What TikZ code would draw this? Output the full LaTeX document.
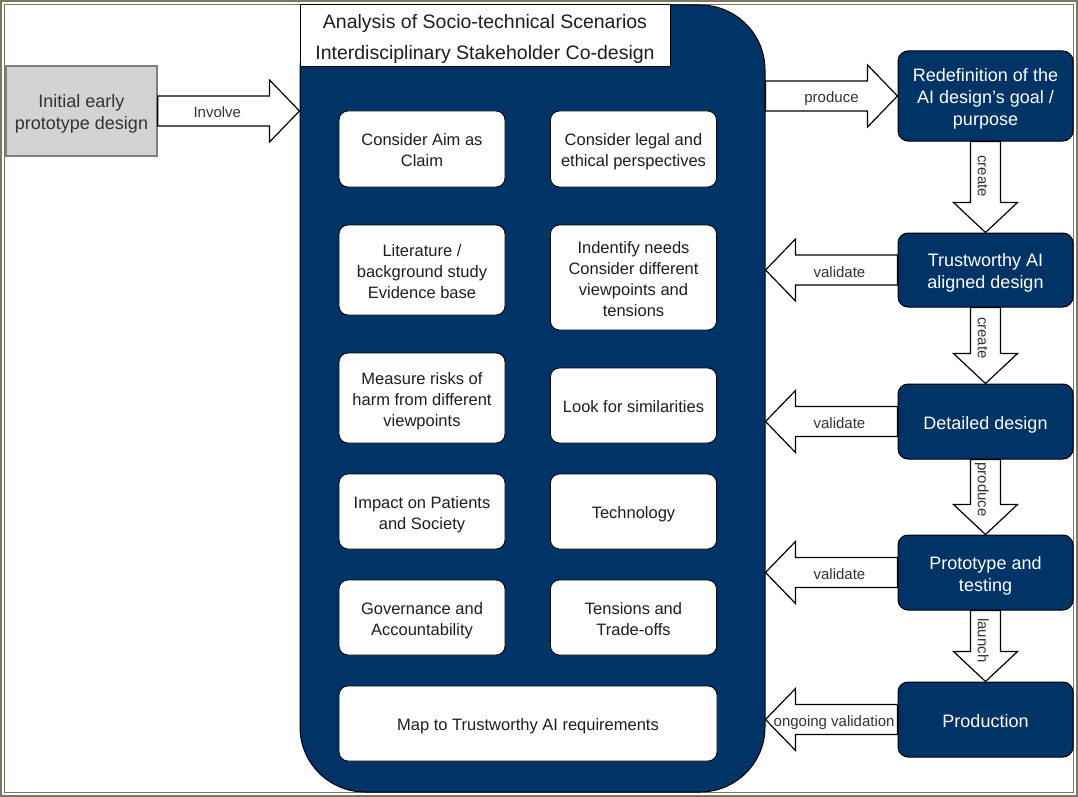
\documentclass[tikz,border=0pt]{standalone}
\usepackage{fontspec}
\setmainfont{Liberation Sans}
\usetikzlibrary{calc}
\definecolor{navy}{HTML}{003366}
\definecolor{framec}{RGB}{122,122,100}
\definecolor{txtc}{HTML}{1E1E1E}
\definecolor{lblc}{HTML}{333333}
\definecolor{initfill}{HTML}{D3D3D3}
\definecolor{initline}{HTML}{808080}
\newcommand{\tdrop}{0}
\newcommand{\ml}[1]{\raisebox{-\tdrop pt}[\height][\depth]{\begin{tabular}{@{}c@{}}#1\end{tabular}}}
\newcommand{\rightfat}[2]{\draw[fat] ($(#1)+(0,15)$) -- ($(#2)+(-30,15)$) -- ($(#2)+(-30,31)$) -- (#2) -- ($(#2)+(-30,-31)$) -- ($(#2)+(-30,-15)$) -- ($(#1)+(0,-15)$) -- cycle;}
\newcommand{\leftfat}[2]{\draw[fat] ($(#1)+(0,15)$) -- ($(#2)+(30,15)$) -- ($(#2)+(30,31)$) -- (#2) -- ($(#2)+(30,-31)$) -- ($(#2)+(30,-15)$) -- ($(#1)+(0,-15)$) -- cycle;}
\newcommand{\downfat}[2]{\draw[fat] ($(#1)+(-15,0)$) -- ($(#2)+(-15,-30)$) -- ($(#2)+(-32,-30)$) -- (#2) -- ($(#2)+(32,-30)$) -- ($(#2)+(15,-30)$) -- ($(#1)+(15,0)$) -- cycle;}
\begin{document}
\begin{tikzpicture}[x=1pt,y=-1pt,
  frameline/.style={draw=framec},
  drop/.style={execute at begin node={\def\tdrop{#1}}},
  initbox/.style={draw=initline, fill=initfill, line width=1.5, inner sep=0, text=lblc, font=\fontsize{18}{23}\selectfont, drop=2.9},
  panelbox/.style={fill=navy, draw=black, line width=1, rounded corners=65, inner sep=0},
  titlebox/.style={fill=white, draw=black, line width=1, inner sep=0, text=txtc, font=\fontsize{19.5}{31}\selectfont, drop=2},
  ibox/.style={fill=white, draw=black, line width=0.8, rounded corners=9, inner sep=0, text=txtc, font=\fontsize{16.5}{21}\selectfont, drop=2.8},
  dbox/.style={fill=navy, draw=black, line width=1, rounded corners=10, inner sep=0, text=white, minimum width=175, font=\fontsize{18}{22}\selectfont, drop=3.2},
  fat/.style={draw=black, fill=white, line width=1.2, line join=miter},
  lbl/.style={text=lblc, inner sep=0, font=\fontsize{15}{18}\selectfont, drop=3.4},
  lblv/.style={lbl, drop=4, rotate=-90}
]
\useasboundingbox (0,0) rectangle (1078,797);
\fill[white] (0,0) rectangle (1078,797);
\draw[frameline, line width=2] (1,1) rectangle (1077,796);
\draw[frameline, line width=1.2] (4.5,4.5) rectangle (1073.5,792.5);

% initial box
\node[initbox, minimum width=151, minimum height=90] (init) at (81.5,111) {\ml{Initial early\\prototype design}};

% main panel
\node[panelbox, minimum width=465, minimum height=787] (panel) at (532.5,398.5) {};
\node[titlebox, minimum width=370, minimum height=61] (title) at (485,35.5) {\ml{Analysis of Socio-technical Scenarios\\Interdisciplinary Stakeholder Co-design}};

% inner boxes
\node[ibox, minimum width=166, minimum height=76] (aim) at (422,149) {\ml{Consider Aim as\\Claim}};
\node[ibox, minimum width=166, minimum height=76] (legal) at (633.5,149) {\ml{Consider legal and\\ethical perspectives}};
\node[ibox, minimum width=166, minimum height=90] (lit) at (422,270) {\ml{Literature /\\background study\\Evidence base}};
\node[ibox, minimum width=166, minimum height=105] (needs) at (633.5,277.5) {\ml{Indentify needs\\Consider different\\viewpoints and\\tensions}};
\node[ibox, minimum width=166, minimum height=90] (risk) at (422,398) {\ml{Measure risks of\\harm from different\\viewpoints}};
\node[ibox, minimum width=166, minimum height=75] (sim) at (633.5,405.5) {\ml{Look for similarities}};
\node[ibox, minimum width=166, minimum height=75] (impact) at (422,511.5) {\ml{Impact on Patients\\and Society}};
\node[ibox, minimum width=166, minimum height=75] (tech) at (633.5,511.5) {\ml{Technology}};
\node[ibox, minimum width=166, minimum height=75] (gov) at (422,617.5) {\ml{Governance and\\Accountability}};
\node[ibox, minimum width=166, minimum height=75] (trade) at (633.5,617.5) {\ml{Tensions and\\Trade-offs}};
\node[ibox, minimum width=378, minimum height=75] (map) at (528,723.5) {\ml{Map to Trustworthy AI requirements}};

% right column
\node[dbox, minimum height=90] (r1) at (985.5,96) {\ml{Redefinition of the\\AI design's goal /\\purpose}};
\node[dbox, minimum height=74] (r2) at (985.5,270) {\ml{Trustworthy AI\\aligned design}};
\node[dbox, minimum height=75] (r3) at (985.5,421.5) {\ml{Detailed design}};
\node[dbox, minimum height=75] (r4) at (985.5,572.5) {\ml{Prototype and\\testing}};
\node[dbox, minimum height=75] (r5) at (985.5,719.5) {\ml{Production}};

% connector end points
\coordinate (inv) at (init.east -| panel.west);
\coordinate (pr) at (r1.west -| panel.east);
\coordinate (v2) at (r2.west -| panel.east);
\coordinate (v3) at (r3.west -| panel.east);
\coordinate (v4) at (r4.west -| panel.east);
\coordinate (v5) at (r5.west -| panel.east);

% arrows
\rightfat{init.east}{inv}
\node[lbl] (linv) at ($(init.east)!0.42!(inv)$) {\ml{Involve}};
\rightfat{pr}{r1.west}
\node[lbl] (lpr) at ($(pr)!0.5!(r1.west)$) {\ml{produce}};
\leftfat{r2.west}{v2}
\node[lbl] (lv2) at ($(r2.west)!0.44!(v2)$) {\ml{validate}};
\leftfat{r3.west}{v3}
\node[lbl] (lv3) at ($(r3.west)!0.44!(v3)$) {\ml{validate}};
\leftfat{r4.west}{v4}
\node[lbl] (lv4) at ($(r4.west)!0.44!(v4)$) {\ml{validate}};
\leftfat{r5.west}{v5}
\node[lbl] (lv5) at ($(r5.west)!0.48!(v5)$) {\ml{ongoing validation}};

\downfat{r1.south}{r2.north}
\node[lblv] (lc1) at ($(r1.south)!0.38!(r2.north)$) {\ml{create}};
\downfat{r2.south}{r3.north}
\node[lblv] (lc2) at ($(r2.south)!0.4!(r3.north)$) {\ml{create}};
\downfat{r3.south}{r4.north}
\node[lblv] (lc3) at ($(r3.south)!0.4!(r4.north)$) {\ml{produce}};
\downfat{r4.south}{r5.north}
\node[lblv] (lc4) at ($(r4.south)!0.42!(r5.north)$) {\ml{launch}};
\end{tikzpicture}
\end{document}
